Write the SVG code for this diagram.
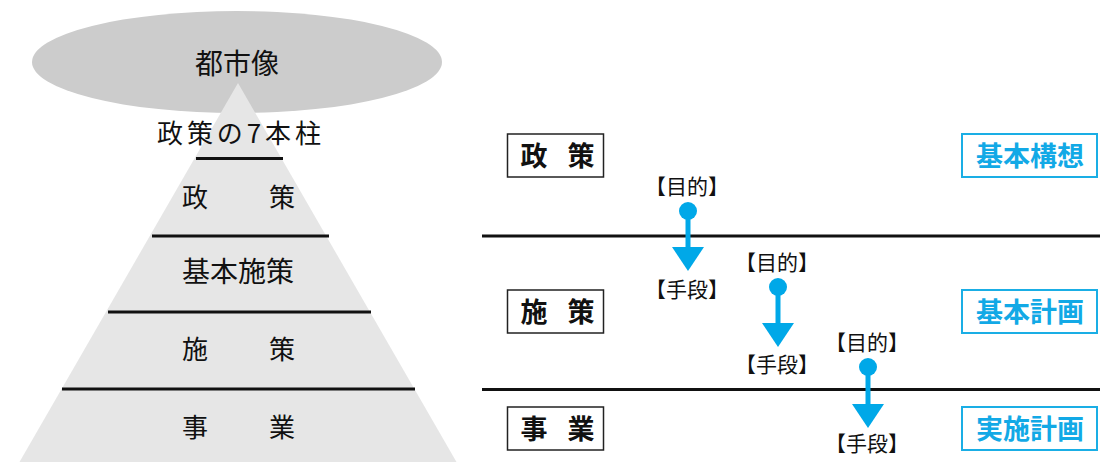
<svg xmlns="http://www.w3.org/2000/svg" width="1100" height="462" viewBox="0 0 1100 462">
<defs>
<style>
text{font-family:"Noto Sans CJK JP","Noto Sans",sans-serif;fill:#111;text-anchor:middle;dominant-baseline:central}
.sep{stroke:#111;stroke-width:3}
.box{fill:#fff;stroke:#222;stroke-width:1.5}
.bt{font-size:27px;font-weight:bold}
.bbox{fill:#fff;stroke:#1aaee5;stroke-width:2}
.blt{font-size:27px;fill:#12a9e6;font-weight:bold}
.sm{font-size:21px}
.ar{stroke:#00a8e8;stroke-width:5}
.ah{fill:#00a8e8}
.pl{font-size:26px}
</style>
</defs>
<rect width="1100" height="462" fill="#fff"/>
<g id="pyramid">
<ellipse cx="237" cy="62" rx="205" ry="51" fill="#cccccc"/>
<polygon points="238,83 12,475 464,475" fill="#e6e6e6"/>
<line class="sep" x1="196" y1="158.5" x2="283" y2="158.5"/>
<line class="sep" x1="152" y1="236" x2="329" y2="236"/>
<line class="sep" x1="108" y1="312" x2="371" y2="312"/>
<line class="sep" x1="62" y1="389" x2="415" y2="389"/>
</g>
<g id="toshizo"><text x="237" y="62" font-size="28">都市像</text></g>
<g id="hashira"><text x="239" y="131" font-size="26" textLength="164" lengthAdjust="spacing">政策の7本柱</text></g>
<g id="p-seisaku"><text class="pl" x="195" y="195">政</text><text class="pl" x="282" y="195">策</text></g>
<g id="p-kihonshisaku"><text x="238" y="270" font-size="28">基本施策</text></g>
<g id="p-shisaku"><text class="pl" x="195" y="347">施</text><text class="pl" x="282" y="347">策</text></g>
<g id="p-jigyo"><text class="pl" x="195" y="425">事</text><text class="pl" x="282" y="425">業</text></g>
<g id="dividers">
<line class="sep" x1="482" y1="236" x2="1100" y2="236"/>
<line class="sep" x1="482" y1="389.5" x2="1100" y2="389.5"/>
</g>
<g id="box-seisaku"><rect class="box" x="507.5" y="134" width="96" height="43"/><text class="bt" x="534" y="154">政</text><text class="bt" x="581" y="154">策</text></g>
<g id="box-shisaku"><rect class="box" x="507.5" y="290" width="96" height="43"/><text class="bt" x="534" y="310">施</text><text class="bt" x="581" y="310">策</text></g>
<g id="box-jigyo"><rect class="box" x="507.5" y="407" width="96" height="43"/><text class="bt" x="534" y="427">事</text><text class="bt" x="581" y="427">業</text></g>
<g id="box-kihonkoso"><rect class="bbox" x="962" y="134" width="135" height="43"/><text class="blt" x="1030" y="154">基本構想</text></g>
<g id="box-kihonkeikaku"><rect class="bbox" x="962" y="290" width="135" height="43"/><text class="blt" x="1030" y="310">基本計画</text></g>
<g id="box-jisshikeikaku"><rect class="bbox" x="962" y="407" width="135" height="43"/><text class="blt" x="1030" y="427">実施計画</text></g>
<g id="connectors">
<g id="arrow1">
<text class="sm" x="687" y="185">【目的】</text>
<circle class="ah" cx="688" cy="211" r="9"/>
<line class="ar" x1="688" y1="211" x2="688" y2="250"/>
<polygon class="ah" points="672,247 704,247 688,271"/>
<text class="sm" x="687" y="288">【手段】</text>
</g>
<g id="arrow2">
<text class="sm" x="777" y="261">【目的】</text>
<circle class="ah" cx="778" cy="287" r="9"/>
<line class="ar" x1="778" y1="287" x2="778" y2="326"/>
<polygon class="ah" points="762,323 794,323 778,347"/>
<text class="sm" x="777" y="363">【手段】</text>
</g>
<g id="arrow3">
<text class="sm" x="867" y="341">【目的】</text>
<circle class="ah" cx="868" cy="367" r="9"/>
<line class="ar" x1="868" y1="367" x2="868" y2="407"/>
<polygon class="ah" points="852,404 884,404 868,428"/>
<text class="sm" x="867" y="442">【手段】</text>
</g>
</g>
</svg>
